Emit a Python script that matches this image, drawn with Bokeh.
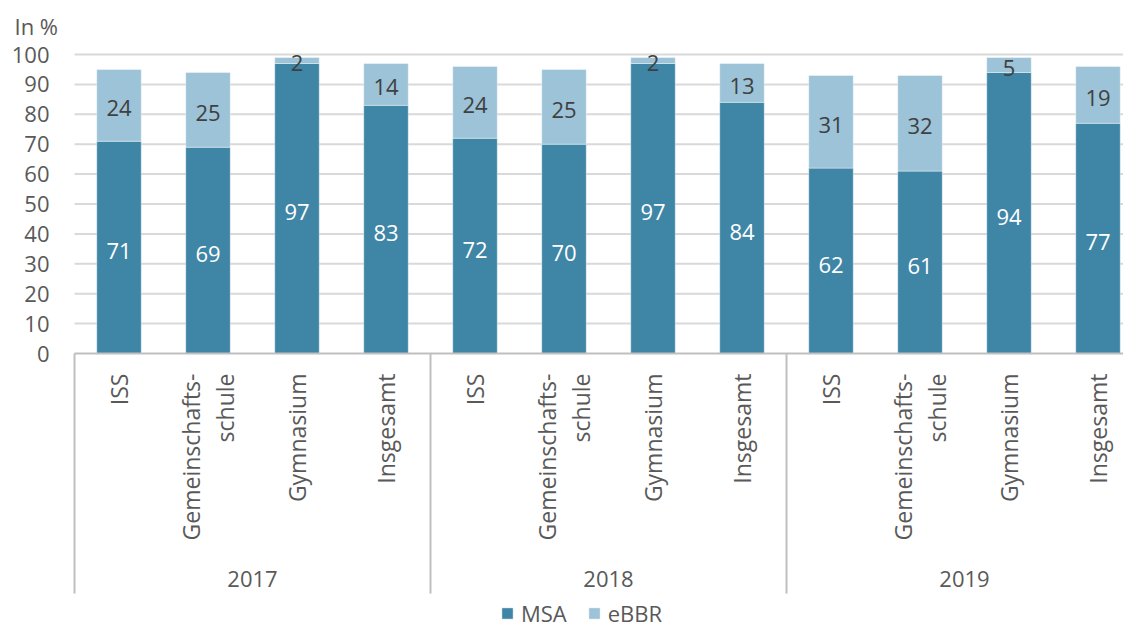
import math
from bokeh.plotting import figure
from bokeh.models import ColumnDataSource, Range1d, Legend, LegendItem
from bokeh.core.properties import value
from bokeh.embed import file_html
from bokeh.resources import INLINE

# ---- data ----
years = ["2017", "2018", "2019"]
schools = ["ISS", "Gemeinschafts-\nschule", "Gymnasium", "Insgesamt"]
msa = [71, 69, 97, 83, 72, 70, 97, 84, 62, 61, 94, 77]
ebbr = [24, 25, 2, 14, 24, 25, 2, 13, 31, 32, 5, 19]
y_ticks = [0, 10, 20, 30, 40, 50, 60, 70, 80, 90, 100]
series = ["MSA", "eBBR"]
unit_label = "In %"

# ---- style ----
FONT = "Open Sans"
C_MSA = "#3f86a6"
C_EBBR = "#9cc3d7"
C_TXT = "#595959"
C_LBL = "#404040"
FS = "22px"

n = len(msa)
xs = [i + 0.5 for i in range(n)]
cats = [s for _ in years for s in schools]

src = ColumnDataSource(dict(x=xs, MSA=msa, eBBR=ebbr, cat=cats,
                            msa_mid=[m / 2 for m in msa],
                            ebbr_mid=[m + e / 2 for m, e in zip(msa, ebbr)],
                            msa_txt=[str(v) for v in msa],
                            ebbr_txt=[str(v) for v in ebbr]))

W, H = 1123, 628
plot_left = 74.0      # pixel where category slots start
px_per_slot = 89.0
px_per_unit = 2.99
zero_px = 353.0

x_start = -plot_left / px_per_slot
x_end = (W - plot_left) / px_per_slot
y_top = zero_px / px_per_unit
y_bot = -(H - zero_px) / px_per_unit

p = figure(width=W, height=H, output_backend="svg", toolbar_location=None,
           x_range=Range1d(x_start, x_end), y_range=Range1d(y_bot, y_top),
           x_axis_type=None, y_axis_type=None,
           min_border_left=0, min_border_right=0, min_border_top=0, min_border_bottom=0)
p.outline_line_color = None
p.background_fill_color = "white"
p.border_fill_color = "white"
p.xgrid.grid_line_color = None
p.ygrid.grid_line_color = None

# horizontal grid lines and y tick labels
grid_y = [t for t in y_ticks if t > 0]
p.segment(x0=[0] * len(grid_y), y0=grid_y, x1=[x_end] * len(grid_y), y1=grid_y,
          line_color="#d9d9d9", line_width=2)
p.text(x=[-25 / px_per_slot] * len(y_ticks), y=y_ticks, text=[str(t) for t in y_ticks],
       text_align="right", text_baseline="middle", text_color=C_TXT,
       text_font=value(FONT), text_font_size=FS)

# bars
rs = p.vbar_stack(series, x="x", width=0.5, source=src,
                  color=[C_MSA, C_EBBR], line_color="white", line_alpha=0.4, line_width=1)

# baseline (category axis line)
p.segment(x0=[0], y0=[0], x1=[x_end], y1=[0], line_color="#bfbfbf", line_width=2)

# data labels
p.text(x="x", y="msa_mid", text="msa_txt", source=src, text_align="center",
       text_baseline="middle", text_color="white", text_font=value(FONT),
       text_font_size=FS, y_offset=4)
p.text(x="x", y="ebbr_mid", text="ebbr_txt", source=src, text_align="center",
       text_baseline="middle", text_color=C_LBL, text_font=value(FONT),
       text_font_size=FS, y_offset=3)

# category labels (rotated)
p.text(x="x", y=-6.7, text="cat", source=src, angle=math.pi / 2,
       text_align="right", text_baseline="middle", text_color=C_TXT,
       text_font=value(FONT), text_font_size="23px", text_line_height=1.05)

# group separators
gs = len(schools)
sep_x = [g * gs for g in range(len(years) + 1)]
p.segment(x0=sep_x, y0=[0] * len(sep_x), x1=sep_x, y1=[-80.3] * len(sep_x),
          line_color="#bfbfbf", line_width=2)

# year labels
p.text(x=[g * gs + gs / 2 for g in range(len(years))], y=[-75.3] * len(years), text=years,
       text_align="center", text_baseline="middle", text_color=C_TXT,
       text_font=value(FONT), text_font_size=FS)

# unit label
p.text(x=[-60 / px_per_slot], y=[(zero_px - 25) / px_per_unit], text=[unit_label],
       text_align="left", text_baseline="middle", text_color=C_TXT,
       text_font=value(FONT), text_font_size=FS)

# legend
legend = Legend(items=[LegendItem(label=s, renderers=[r]) for s, r in zip(series, rs)],
                orientation="horizontal", location=(500, 0),
                glyph_width=14, glyph_height=14, label_standoff=7, spacing=20,
                padding=0, margin=0, border_line_color=None, background_fill_alpha=0,
                label_text_font=FONT, label_text_font_size=FS, label_text_color=C_TXT)
p.add_layout(legend)

open("out.html", "w").write(file_html(p, INLINE))
